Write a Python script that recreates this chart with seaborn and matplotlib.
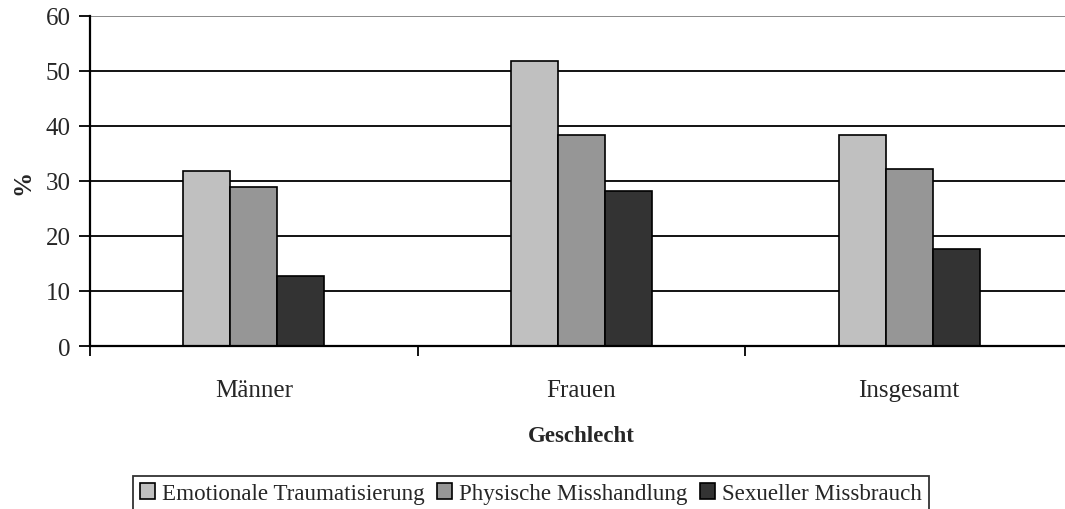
import matplotlib
matplotlib.use("Agg")
import matplotlib.pyplot as plt
import seaborn as sns
import pandas as pd

groups = ["Männer", "Frauen", "Insgesamt"]
series = ["Emotionale Traumatisierung", "Physische Misshandlung", "Sexueller Missbrauch"]
emotional = [31.9, 51.9, 38.4]
physical = [29.0, 38.4, 32.2]
sexual = [12.7, 28.2, 17.7]
colors = ["#c0c0c0", "#969696", "#333333"]
yticks = [0, 10, 20, 30, 40, 50, 60]

df = pd.DataFrame({
    "Geschlecht": groups * 3,
    "Art": [series[0]] * 3 + [series[1]] * 3 + [series[2]] * 3,
    "Wert": emotional + physical + sexual,
})

sns.set_style("white")
plt.rcParams["font.family"] = ["Liberation Serif", "DejaVu Serif"]

fig = plt.figure(figsize=(10.65, 5.10), dpi=100)
ax = fig.add_axes([90 / 1065, (510 - 347) / 510, (1073 - 90) / 1065, (347 - 17) / 510])

sns.barplot(data=df, x="Geschlecht", y="Wert", hue="Art", hue_order=series,
            palette=colors, width=0.43, gap=0, edgecolor="black", linewidth=1.2,
            saturation=1, ax=ax, legend=True)

ax.set_ylim(0, 60)
ax.set_xlim(-0.5, 2.5)
ax.set_yticks(yticks)
ax.set_yticklabels([str(v) for v in yticks], fontsize=18)
for v in yticks[1:]:
    ax.axhline(v, color="black" if v < 60 else "#808080", linewidth=1.3, zorder=0)

ax.set_xticks([-0.5, 0.5, 1.5, 2.5], minor=False)
ax.set_xticklabels([])
ax.set_xticks([0, 1, 2], minor=True)
ax.set_xticklabels(groups, minor=True, fontsize=18)
ax.tick_params(axis="x", which="minor", bottom=False, length=0, pad=24)
ax.tick_params(axis="x", which="major", bottom=True, direction="out", length=7,
               width=1.3, color="black")
ax.tick_params(axis="y", left=True, direction="out", length=8, width=1.3,
               color="black", pad=6)

for side in ["top", "right"]:
    ax.spines[side].set_visible(False)
for side in ["left", "bottom"]:
    ax.spines[side].set_color("black")
    ax.spines[side].set_linewidth(1.6)

ax.set_xlabel("Geschlecht", fontsize=16.5, fontweight="bold", labelpad=17)
ax.set_ylabel("%", fontsize=18, fontweight="bold", labelpad=8)

handles, labels = ax.get_legend_handles_labels()
ax.legend(handles, labels, loc="upper left", bbox_to_anchor=(133 / 1065, 33 / 510),
          bbox_transform=fig.transFigure, ncol=3, frameon=True, fancybox=False,
          edgecolor="black", fontsize=16.6, handlelength=0.65, handleheight=0.65,
          handletextpad=0.3, columnspacing=0.55, borderpad=0.3, borderaxespad=0)
ax.get_legend().get_frame().set_linewidth(1.3)

fig.savefig("out.png", dpi=100)
